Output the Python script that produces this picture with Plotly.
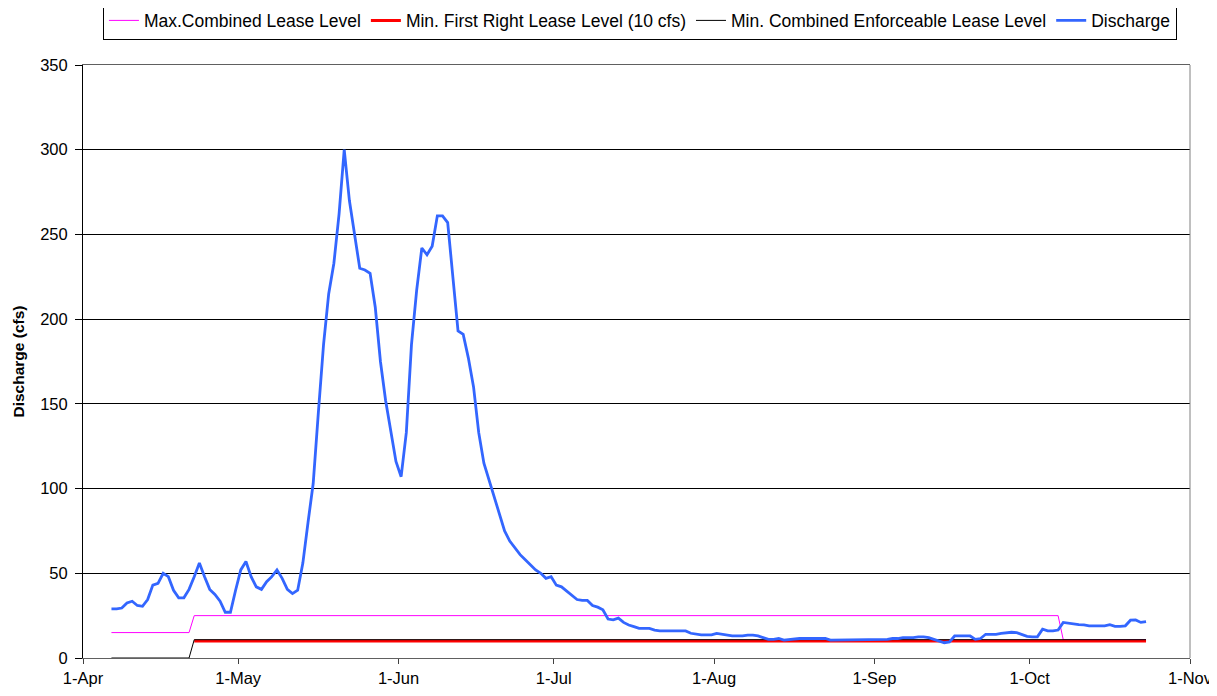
import pandas as pd
import plotly.graph_objects as go

# ---- data (daily discharge, cfs) ----
year = 2007
first_day = f"{year}-04-06 12:00"

discharge_apr = [29, 29, 29.5, 32.5, 33.5, 31, 30.5, 34.5, 43, 44, 50, 48, 40, 35.5, 35.5,
                 40.5, 48, 56, 48, 40.5, 37.5, 33.5, 27, 27, 40]               # Apr 6-30
discharge_may = [52, 57, 48, 42, 40.5, 45, 48, 52, 47, 40.5, 38, 40, 56, 80, 103, 145, 185,
                 215, 233, 262, 300, 270, 250, 230, 229, 227, 207, 175, 152, 133, 116]
discharge_jun = [107, 133, 185, 217, 242, 238, 243, 261, 261, 257, 225, 193, 191, 177, 160,
                 133, 115, 105, 95, 86, 75, 69, 65, 61, 58, 55, 52, 50, 47, 48]
discharge_jul = [43, 42, 39.5, 37, 34.5, 34, 34, 31, 30, 28.5, 23, 22.5, 23.5, 21, 19.5, 18.5,
                 17.5, 17.5, 17.5, 16.5, 16, 16, 16, 16, 16, 16, 14.6, 14, 13.6, 13.6, 13.6]
discharge_aug = [14.5, 14, 13.5, 13, 13, 13, 13.5, 13.5, 13, 12, 11, 11, 11.5, 10.6, 11, 11.5,
                 11.5, 11.5, 11.5, 11.5, 11.5, 11.5, 10.6, 10.6, 10.6, 10.6, 10.6, 10.6, 10.6,
                 10.6, 10.6]
discharge_sep = [10.6, 10.6, 11, 11.5, 11.5, 12, 12, 12, 12.5, 12.5, 12, 11, 10, 9, 9.5, 13, 13,
                 13, 13, 11, 11.5, 14, 14, 14, 14.5, 15, 15.2, 15, 14, 12.8]
discharge_oct = [12.5, 12.5, 17, 16, 16, 16.5, 21, 20.5, 20, 19.7, 19.5, 19, 19, 19, 19, 19.7,
                 18.7, 18.7, 19, 22.3, 22.5, 21, 21.5]                         # Oct 1-23

# step levels (value, first date it applies)
max_lease_levels = [15, 25, 10.8]
max_lease_from = [f"{year}-04-06", f"{year}-04-22", f"{year}-10-07"]
first_right_levels = [None, 10]
first_right_from = [f"{year}-04-06", f"{year}-04-22"]
enforceable_levels = [0, 10.8]
enforceable_from = [f"{year}-04-06", f"{year}-04-22"]

series_names = ["Max.Combined Lease Level", "Min. First Right Lease Level (10 cfs)",
                "Min. Combined Enforceable Lease Level", "Discharge"]
y_title = "Discharge (cfs)"

# ---- build ----
discharge = (discharge_apr + discharge_may + discharge_jun + discharge_jul +
             discharge_aug + discharge_sep + discharge_oct)
dates = pd.date_range(first_day, periods=len(discharge), freq="D")


def expand(levels, starts):
    st = [pd.Timestamp(s) for s in starts]
    out = []
    for d in dates:
        val = None
        for lv, s in zip(levels, st):
            if d.normalize() >= s:
                val = lv
        out.append(val)
    return out


max_lease = expand(max_lease_levels, max_lease_from)
first_right = expand(first_right_levels, first_right_from)
enforceable = expand(enforceable_levels, enforceable_from)

fig = go.Figure()
fig.add_trace(go.Scatter(x=dates, y=max_lease, mode="lines", name=series_names[0],
                         line=dict(color="#FF00FF", width=1)))
fig.add_trace(go.Scatter(x=dates, y=first_right, mode="lines", name=series_names[1],
                         line=dict(color="#FF0000", width=3)))
fig.add_trace(go.Scatter(x=dates, y=enforceable, mode="lines", name=series_names[2],
                         line=dict(color="#000000", width=1)))
fig.add_trace(go.Scatter(x=dates, y=discharge, mode="lines", name=series_names[3],
                         line=dict(color="#3366FF", width=2.8)))

font_family = "Liberation Sans, Arial, sans-serif"

# the page places the figure 8px in from the top-left corner
fig.update_layout(
    width=1209, height=688,
    paper_bgcolor="white", plot_bgcolor="white",
    margin=dict(l=75, r=27, t=57, b=38, autoexpand=False),
    font=dict(family=font_family, size=16.5, color="black"),
    showlegend=True,
    legend=dict(orientation="h", xref="container", yref="container",
                x=0.5227, xanchor="center", y=0.9818, yanchor="middle",
                bgcolor="white", bordercolor="black", borderwidth=1,
                font=dict(family=font_family, size=17.5, color="black"),
                itemwidth=30, tracegroupgap=0),
    xaxis=dict(type="date", range=[f"{year}-04-01", f"{year}-11-01"],
               tick0=f"{year}-04-01", dtick="M1", tickformat="%-d-%b",
               ticks="outside", ticklen=5, tickcolor="#404040",
               showgrid=False, zeroline=False, automargin=False,
               showline=True, linecolor="#606060", linewidth=1, mirror=True,
               tickfont=dict(size=16.5)),
    yaxis=dict(range=[0, 350], dtick=50, tick0=0,
               ticks="outside", ticklen=7, tickcolor="black",
               ticklabelstandoff=4, automargin=False,
               showgrid=True, gridcolor="black", gridwidth=1,
               zeroline=False, showline=True, linecolor="black", linewidth=1,
               tickfont=dict(size=16.5)),
    shapes=[dict(type="line", xref="paper", yref="paper", x0=1, x1=1, y0=0, y1=1,
                 line=dict(color="#808080", width=1))],
    annotations=[dict(text=f"<b>{y_title}</b>", textangle=-90, showarrow=False,
                      xref="paper", yref="paper", x=0, y=0.5, xanchor="center",
                      yanchor="middle", xshift=-65,
                      font=dict(family=font_family, size=15.5, color="black"))],
)

fig.write_html("out.html")
